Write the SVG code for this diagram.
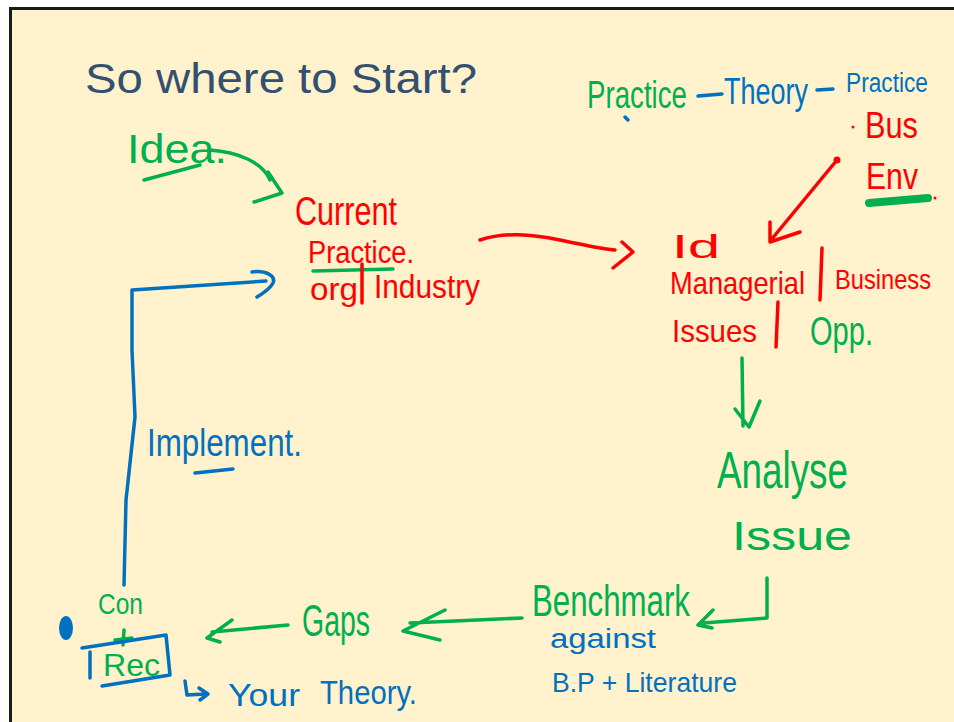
<svg xmlns="http://www.w3.org/2000/svg" width="954" height="722" viewBox="0 0 954 722">
  <style>
    .hand { font-family: "Liberation Sans", "DejaVu Sans", sans-serif; }
    .r { fill: #FF0000; }
    .g { fill: #00B050; }
    .b { fill: #0070C0; }
    .sr, .sg, .sb { fill: none; stroke-linecap: round; stroke-linejoin: round; stroke-width: 3.5; }
    .sr { stroke: #FF0000; }
    .sg { stroke: #00B050; }
    .sb { stroke: #0070C0; }
  </style>

  <!-- slide background and frame -->
  <rect x="0" y="0" width="954" height="722" fill="#FFFFFF"/>
  <rect x="10.5" y="8.5" width="950" height="720" fill="#FFF2CC" stroke="#1A1A1A" stroke-width="3"/>

  <!-- title -->
  <text id="title" x="85" y="93" font-family="'Liberation Sans', sans-serif" font-size="42" fill="#34506F" textLength="392" lengthAdjust="spacingAndGlyphs">So where to Start?</text>

  <g id="ptp" class="hand">
    <text x="587" y="108" font-size="38" class="g" textLength="100" lengthAdjust="spacingAndGlyphs">Practice</text>
    <path class="sb" d="M698 96 L722 94"/>
    <text x="724" y="104" font-size="36" class="b" textLength="84" lengthAdjust="spacingAndGlyphs">Theory</text>
    <path class="sb" d="M817 90 L833 89"/>
    <text x="846" y="92" font-size="27" class="b" textLength="82" lengthAdjust="spacingAndGlyphs">Practice</text>
    <path class="sb" d="M625 117 L628 120"/>
  </g>

  <g id="bus-env" class="hand">
    <circle cx="853" cy="127" r="1.5" class="r"/>
    <text x="865" y="138" font-size="36" class="r" textLength="53" lengthAdjust="spacingAndGlyphs">Bus</text>
    <text x="866" y="189" font-size="36" class="r" textLength="52" lengthAdjust="spacingAndGlyphs">Env</text>
    <path d="M869 203 L928 198" stroke="#00B050" stroke-width="8" stroke-linecap="round" fill="none"/>
    <circle cx="935" cy="198" r="1.5" class="r"/>
  </g>

  <g id="idea" class="hand">
    <text x="127" y="163" font-size="40" class="g" textLength="100" lengthAdjust="spacingAndGlyphs">Idea.</text>
    <path class="sg" d="M144 180 L200 165"/>
  </g>

  <g id="current-practice" class="hand">
    <text x="295" y="225" font-size="40" class="r" textLength="102" lengthAdjust="spacingAndGlyphs">Current</text>
    <text x="308" y="263" font-size="31" class="r" textLength="106" lengthAdjust="spacingAndGlyphs">Practice.</text>
    <path class="sg" d="M313 271 L393 269"/>
    <text x="310" y="300" font-size="31" class="r" textLength="48" lengthAdjust="spacingAndGlyphs">org</text>
    <path class="sr" d="M362 264 L362 303"/>
    <text x="374" y="298" font-size="34" class="r" textLength="106" lengthAdjust="spacingAndGlyphs">Industry</text>
  </g>

  <g id="issues" class="hand">
    <text x="672" y="258" font-size="34" class="r" textLength="48" lengthAdjust="spacingAndGlyphs">Id</text>
    <text x="670" y="294" font-size="32" class="r" textLength="135" lengthAdjust="spacingAndGlyphs">Managerial</text>
    <path class="sr" d="M822 248 L820 300"/>
    <text x="835" y="289" font-size="28" class="r" textLength="96" lengthAdjust="spacingAndGlyphs">Business</text>
    <text x="672" y="342" font-size="32" class="r" textLength="85" lengthAdjust="spacingAndGlyphs">Issues</text>
    <path class="sr" d="M778 302 L776 347"/>
    <text x="810" y="345" font-size="40" class="g" textLength="63" lengthAdjust="spacingAndGlyphs">Opp.</text>
  </g>

  <g id="analyse" class="hand">
    <text x="717" y="488" font-size="52" class="g" textLength="131" lengthAdjust="spacingAndGlyphs">Analyse</text>
    <text x="732" y="550" font-size="40" class="g" textLength="120" lengthAdjust="spacingAndGlyphs">Issue</text>
  </g>

  <g id="benchmark" class="hand">
    <text x="532" y="616" font-size="44" class="g" textLength="158" lengthAdjust="spacingAndGlyphs">Benchmark</text>
    <text x="550" y="648" font-size="27" class="b" textLength="106" lengthAdjust="spacingAndGlyphs">against</text>
    <text x="552" y="692" font-size="28" class="b" textLength="185" lengthAdjust="spacingAndGlyphs">B.P + Literature</text>
  </g>

  <g id="gaps" class="hand">
    <text x="302" y="636" font-size="44" class="g" textLength="68" lengthAdjust="spacingAndGlyphs">Gaps</text>
  </g>

  <g id="con-rec" class="hand">
    <ellipse cx="66" cy="628" rx="7" ry="12" class="b"/>
    <text x="98" y="614" font-size="30" class="g" textLength="45" lengthAdjust="spacingAndGlyphs">Con</text>
    <path class="sg" d="M124 630 L123 645 M115 640 L132 638"/>
    <path class="sb" d="M82 648 L166 635 L170 675 L102 686 M90 652 L90 678"/>
    <text x="103" y="676" font-size="32" class="g" textLength="57" lengthAdjust="spacingAndGlyphs">Rec</text>
    <path class="sb" d="M185 681 L187 695 L205 694 M199 688 L208 694 L200 700"/>
    <text x="228" y="706" font-size="32" class="b" textLength="72" lengthAdjust="spacingAndGlyphs">Your</text>
    <text x="320" y="704" font-size="34" class="b" textLength="97" lengthAdjust="spacingAndGlyphs">Theory.</text>
  </g>

  <g id="implement" class="hand">
    <text x="147" y="456" font-size="38" class="b" textLength="155" lengthAdjust="spacingAndGlyphs">Implement.</text>
    <path class="sb" d="M195 473 L233 469"/>
  </g>

  <g id="connectors">
    <!-- business environment into the issues -->
    <circle cx="837" cy="160" r="3.5" class="r"/>
    <path class="sr" d="M837 160 L771 240 M770 222 L770 242 L800 232"/>
    <!-- idea to current practice -->
    <path class="sg" d="M210 150 C238 152 262 162 270 180 M268 172 L282 193 L254 202"/>
    <!-- current practice to issues -->
    <path class="sr" d="M480 240 C505 232 530 234 560 240 C585 245 600 249 615 250 M622 242 L633 252 L613 268"/>
    <!-- issues to analyse -->
    <path class="sg" d="M742 358 L743 426 M735 409 L749 427 L760 401"/>
    <!-- analyse to benchmark -->
    <path class="sg" d="M767 578 L767 618 L704 623 M713 610 L698 625 L712 628"/>
    <!-- benchmark to gaps -->
    <path class="sg" d="M522 618 L410 623 M445 610 L403 631 L440 640"/>
    <!-- gaps to conclusion -->
    <path class="sg" d="M288 625 L212 632 M232 620 L207 638 L220 642"/>
    <!-- implement back to current practice -->
    <path class="sb" d="M124 585 L126 500 L135 417 L132 350 L132 290 L266 281 M252 272 C266 270 276 276 273 283 C270 289 262 294 257 297"/>
  </g>
</svg>
